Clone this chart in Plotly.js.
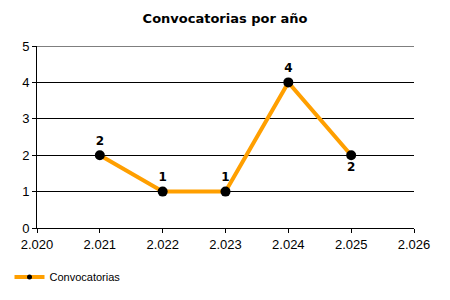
<!DOCTYPE html>
<html>
<head>
<meta charset="utf-8">
<script src="https://cdn.plot.ly/plotly-3.0.1.min.js"></script>
<style>html,body{margin:0;padding:0;background:#fff;}#chart{width:450px;height:300px;}</style>
</head>
<body>
<div id="chart"></div>
<script>
const years = [2021, 2022, 2023, 2024, 2025];
const counts = [2, 1, 1, 4, 2];
const labelPositions = ['top center', 'top center', 'top center', 'top center', 'bottom center'];
const xTickVals = [2020, 2021, 2022, 2023, 2024, 2025, 2026];
const xTickText = ['2.020', '2.021', '2.022', '2.023', '2.024', '2.025', '2.026'];
const yTickVals = [0, 1, 2, 3, 4, 5];
const seriesName = 'Convocatorias';
const chartTitle = 'Convocatorias por año';

const lineColor = '#FF9F00';
const yMax = yTickVals[yTickVals.length - 1];

const trace = {
  x: years,
  y: counts,
  name: seriesName,
  type: 'scatter',
  mode: 'lines+markers+text',
  showlegend: false,
  text: counts.map(String),
  textposition: labelPositions,
  textfont: {family: 'DejaVu Sans, sans-serif', size: 12, color: '#000', weight: 'bold'},
  line: {color: lineColor, width: 4},
  marker: {color: '#000', size: 10}
};

// legend entry (same series, smaller symbol as in the reference legend)
const legendTrace = {
  x: [null],
  y: [null],
  name: seriesName,
  type: 'scatter',
  mode: 'lines+markers',
  showlegend: true,
  line: {color: lineColor, width: 4},
  marker: {color: '#000', size: 5}
};

const layout = {
  width: 450,
  height: 300,
  margin: {l: 37, r: 36, t: 46, b: 72},
  paper_bgcolor: '#fff',
  plot_bgcolor: '#fff',
  font: {family: 'Liberation Sans, Arial, sans-serif', size: 13, color: '#000'},
  title: {
    text: '<b>' + chartTitle + '</b>',
    font: {family: 'DejaVu Sans, sans-serif', size: 13, color: '#000'},
    x: 0.5, xanchor: 'center',
    y: 1 - 18/300, yanchor: 'middle', yref: 'container'
  },
  xaxis: {
    range: [2020, 2026],
    tickvals: xTickVals,
    ticktext: xTickText,
    showgrid: false,
    zeroline: false,
    showline: true,
    linecolor: '#000',
    linewidth: 1,
    ticks: 'outside',
    ticklen: 4,
    tickcolor: '#000',
    tickfont: {size: 13}
  },
  yaxis: {
    range: [0, yMax],
    tickvals: yTickVals,
    showgrid: true,
    gridcolor: '#000',
    gridwidth: 1,
    zeroline: false,
    showline: true,
    linecolor: '#000',
    linewidth: 1,
    ticks: 'outside',
    ticklen: 4,
    tickcolor: '#000',
    tickfont: {size: 13}
  },
  shapes: [{
    type: 'line', xref: 'paper', yref: 'y',
    x0: 0, x1: 1, y0: yMax, y1: yMax,
    line: {color: '#000', width: 1},
    layer: 'below'
  }],
  showlegend: true,
  legend: {
    orientation: 'h',
    xref: 'container', yref: 'container',
    x: 9.5/450, xanchor: 'left',
    y: 23/300, yanchor: 'middle',
    font: {size: 11},
    bgcolor: 'rgba(0,0,0,0)'
  }
};

Plotly.newPlot('chart', [trace, legendTrace], layout, {displayModeBar: false, staticPlot: true});
</script>
</body>
</html>
